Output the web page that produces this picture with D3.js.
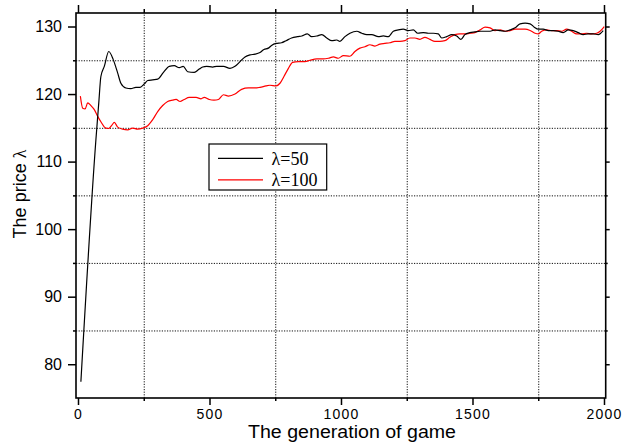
<!DOCTYPE html>
<html>
<head>
<meta charset="utf-8">
<script src="https://cdn.jsdelivr.net/npm/d3@7"></script>
<style>
  html, body { margin: 0; padding: 0; background: #fff; }
  svg { display: block; }
</style>
</head>
<body>
<svg id="chart" width="635" height="442"></svg>
<script>
// Average price over the generations of the game, for two values of lambda.
const gen50 = [11, 68, 79, 87, 100, 117, 134, 151, 163, 182, 201, 220, 236, 252, 265, 284, 303, 325, 347, 366,
  385, 400, 417, 442, 461, 474, 489, 512, 527, 553, 578, 597, 616, 635, 654, 673, 692, 707, 724, 736,
  753, 774, 791, 812, 834, 851, 872, 888, 908, 927, 946, 965, 984, 996, 1015, 1034, 1060, 1079, 1098, 1117,
  1142, 1161, 1180, 1199, 1218, 1237, 1256, 1275, 1292, 1313, 1332, 1351, 1370, 1383, 1402, 1421, 1440, 1456, 1471, 1490,
  1509, 1529, 1548, 1567, 1586, 1605, 1624, 1643, 1662, 1681, 1700, 1719, 1735, 1750, 1769, 1788, 1807, 1826, 1845, 1864,
  1883, 1902, 1921, 1940, 1959, 1978, 1997];
const price50 = [77.4, 113.2, 118.7, 122.6, 124.1, 126.3, 125.1, 123.1, 121.6, 120.9, 120.8, 121.0, 121.0, 121.5, 122.0, 122.1, 122.2, 123.2, 124.1, 124.2,
  123.9, 124.1, 123.3, 123.2, 123.7, 124.0, 124.1, 124.0, 124.1, 124.1, 123.8, 124.1, 124.8, 125.5, 125.8, 125.9, 126.15, 126.6, 126.8, 127.2,
  127.5, 127.6, 127.9, 128.3, 128.5, 128.6, 128.9, 128.5, 128.6, 128.8, 128.3, 127.9, 128.0, 127.8, 128.5, 129.0, 129.3, 129.0, 128.8, 128.8,
  128.5, 128.6, 128.5, 129.3, 129.5, 129.6, 129.4, 129.5, 129.0, 129.1, 129.0, 129.0, 128.9, 128.3, 128.5, 128.8, 128.6, 128.1, 128.8, 129.1,
  129.2, 129.3, 129.3, 129.3, 129.5, 129.4, 129.3, 129.5, 129.8, 130.4, 130.5, 130.4, 129.9, 129.6, 129.6, 129.4, 129.4, 129.3, 129.1, 129.5,
  129.4, 129.1, 128.8, 128.9, 128.9, 128.8, 129.4];

const gen100 = [9, 18, 27, 37, 49, 62, 75, 87, 104, 117, 129, 138, 151, 170, 189, 208, 227, 246, 265, 284,
  303, 322, 341, 360, 373, 388, 404, 423, 449, 468, 480, 499, 517, 534, 553, 572, 597, 622, 648, 673,
  692, 715, 730, 753, 768, 783, 800, 816, 838, 863, 882, 908, 933, 952, 971, 990, 1009, 1034, 1053, 1072,
  1091, 1110, 1129, 1148, 1167, 1186, 1205, 1224, 1243, 1262, 1281, 1300, 1319, 1338, 1357, 1376, 1395, 1414, 1433, 1452,
  1471, 1490, 1509, 1529, 1548, 1567, 1586, 1605, 1624, 1643, 1662, 1681, 1700, 1719, 1738, 1750, 1763, 1782, 1801, 1820,
  1839, 1858, 1877, 1896, 1915, 1934, 1953, 1972, 1985, 2001];
const price100 = [119.7, 117.9, 117.8, 118.7, 118.3, 117.7, 116.7, 115.9, 115.0, 114.9, 115.4, 115.8, 115.1, 114.8, 114.7, 114.95, 114.8, 114.95, 115.3, 116.2,
  117.4, 118.3, 118.9, 119.1, 119.2, 118.9, 119.2, 119.5, 119.5, 119.3, 119.5, 119.2, 119.1, 119.2, 119.9, 119.7, 120.0, 120.7, 120.9, 120.9,
  121.0, 121.2, 121.3, 121.2, 121.6, 122.6, 123.8, 124.7, 124.8, 124.8, 125.0, 125.2, 125.2, 125.3, 125.5, 125.3, 125.7, 125.6, 126.3, 126.8,
  127.0, 127.3, 127.1, 127.4, 127.5, 127.6, 127.8, 127.8, 127.9, 128.3, 128.3, 128.1, 128.4, 128.1, 127.8, 127.8, 127.9, 128.4, 128.8, 128.9,
  128.9, 129.0, 129.1, 129.5, 129.9, 129.8, 129.4, 129.5, 129.3, 129.4, 129.6, 129.6, 129.6, 129.4, 129.0, 128.9, 129.3, 129.5, 129.4, 129.4,
  129.3, 129.6, 129.3, 128.9, 128.9, 129.0, 128.9, 129.0, 129.3, 130.0];

const seriesNames = ["\u03bb=50", "\u03bb=100"];
const seriesColors = ["#000000", "#ff0000"];

const xMajor = [0, 500, 1000, 1500, 2000];
const xMinor = [250, 750, 1250, 1750];
const yMajor = [80, 90, 100, 110, 120, 130];
const yMinor = [85, 95, 105, 115, 125];

const xTitle = "The generation of game";
const yTitle = "The price ";

// Plot frame
const frameL = 76, frameR = 605.7, frameT = 13, frameB = 398;

const x = d3.scaleLinear().domain([-7.6, 2006.5]).range([frameL, frameR]);
const y = d3.scaleLinear().domain([75, 132]).range([frameB, frameT]);

const svg = d3.select("#chart");
const W = frameR - frameL, H = frameB - frameT;

// dotted grid at the minor tick positions
const grid = svg.append("g").attr("class", "grid");
grid.append("g")
  .attr("transform", `translate(0,${frameB})`)
  .call(d3.axisBottom(x).tickValues(xMinor).tickSize(-H).tickFormat(""))
  .call(g => g.select(".domain").remove());
grid.append("g")
  .attr("transform", `translate(${frameL},0)`)
  .call(d3.axisLeft(y).tickValues(yMinor).tickSize(-W).tickFormat(""))
  .call(g => g.select(".domain").remove());
grid.selectAll("line")
  .attr("stroke", "#111")
  .attr("stroke-width", 1)
  .attr("stroke-dasharray", "1.2,1.4");

// data lines
const line = d3.line()
  .x(d => x(d[0]))
  .y(d => y(d[1]))
  .curve(d3.curveMonotoneX);

const series = [
  gen50.map((g, i) => [g, price50[i]]),
  gen100.map((g, i) => [g, price100[i]])
];

svg.append("g")
  .selectAll("path")
  .data([1, 0])
  .join("path")
  .attr("d", k => line(series[k]))
  .attr("fill", "none")
  .attr("stroke", k => seriesColors[k])
  .attr("stroke-width", 1.2);

// axes: major ticks with labels, minor ticks without
function styleAxis(g) {
  g.select(".domain").remove();
  g.selectAll("line").attr("stroke", "#000").attr("stroke-width", 1.5);
}

const axes = svg.append("g");

const xAxisBottom = axes.append("g")
  .attr("transform", `translate(0,${frameB})`)
  .call(d3.axisBottom(x).tickValues(xMajor).tickSize(7).tickFormat(d3.format("d")))
  .call(styleAxis);
xAxisBottom.selectAll("text")
  .attr("y", 21).attr("dy", 0)
  .attr("font-size", 14).attr("fill", "#000")
  .attr("letter-spacing", 1.2)
  .attr("font-family", "'Liberation Sans', Arial, sans-serif");

axes.append("g")
  .attr("transform", `translate(0,${frameB})`)
  .call(d3.axisBottom(x).tickValues(xMinor).tickSize(3).tickFormat(""))
  .call(styleAxis);

axes.append("g")
  .attr("transform", `translate(0,${frameT})`)
  .call(d3.axisTop(x).tickValues(xMajor).tickSize(8).tickFormat(""))
  .call(styleAxis);
axes.append("g")
  .attr("transform", `translate(0,${frameT})`)
  .call(d3.axisTop(x).tickValues(xMinor).tickSize(4).tickFormat(""))
  .call(styleAxis);

const yAxisLeft = axes.append("g")
  .attr("transform", `translate(${frameL},0)`)
  .call(d3.axisLeft(y).tickValues(yMajor).tickSize(8).tickPadding(6).tickFormat(d3.format("d")))
  .call(styleAxis);
yAxisLeft.selectAll("text")
  .attr("font-size", 16).attr("fill", "#000")
  .attr("font-family", "'Liberation Sans', Arial, sans-serif");

axes.append("g")
  .attr("transform", `translate(${frameL},0)`)
  .call(d3.axisLeft(y).tickValues(yMinor).tickSize(3).tickFormat(""))
  .call(styleAxis);

axes.append("g")
  .attr("transform", `translate(${frameR},0)`)
  .call(d3.axisRight(y).tickValues(yMajor).tickSize(4).tickFormat(""))
  .call(styleAxis);
axes.append("g")
  .attr("transform", `translate(${frameR},0)`)
  .call(d3.axisRight(y).tickValues(yMinor).tickSize(2).tickFormat(""))
  .call(styleAxis);

// frame
svg.append("rect")
  .attr("x", frameL).attr("y", frameT)
  .attr("width", W).attr("height", H)
  .attr("fill", "none")
  .attr("stroke", "#000")
  .attr("stroke-width", 1.6);

// axis titles
svg.append("text")
  .attr("x", 352).attr("y", 438.2)
  .attr("text-anchor", "middle")
  .attr("font-family", "'Liberation Sans', Arial, sans-serif")
  .attr("font-size", 17.5)
  .attr("textLength", 208)
  .attr("lengthAdjust", "spacingAndGlyphs")
  .text(xTitle);

const yt = svg.append("text")
  .attr("transform", "translate(26,194) rotate(-90)")
  .attr("text-anchor", "middle")
  .attr("font-family", "'Liberation Sans', Arial, sans-serif")
  .attr("font-size", 18);
yt.append("tspan").text(yTitle);
yt.append("tspan").attr("font-family", "'Liberation Serif', serif").text("\u03bb");

// legend
const legend = svg.append("g");
legend.append("rect")
  .attr("x", 209).attr("y", 144)
  .attr("width", 117.7).attr("height", 46)
  .attr("fill", "#fff")
  .attr("stroke", "#000")
  .attr("stroke-width", 1.2);
const legendRows = legend.selectAll("g.row")
  .data(seriesNames)
  .join("g")
  .attr("class", "row")
  .attr("transform", (d, i) => `translate(0,${158.3 + i * 21.5})`);
legendRows.append("line")
  .attr("x1", 218).attr("x2", 263)
  .attr("stroke", (d, i) => seriesColors[i])
  .attr("stroke-width", 1.2);
legendRows.append("text")
  .attr("x", 271.5).attr("y", 6.2)
  .attr("font-family", "'Liberation Serif', 'Times New Roman', serif")
  .attr("font-size", 18)
  .text(d => d);
</script>
</body>
</html>
